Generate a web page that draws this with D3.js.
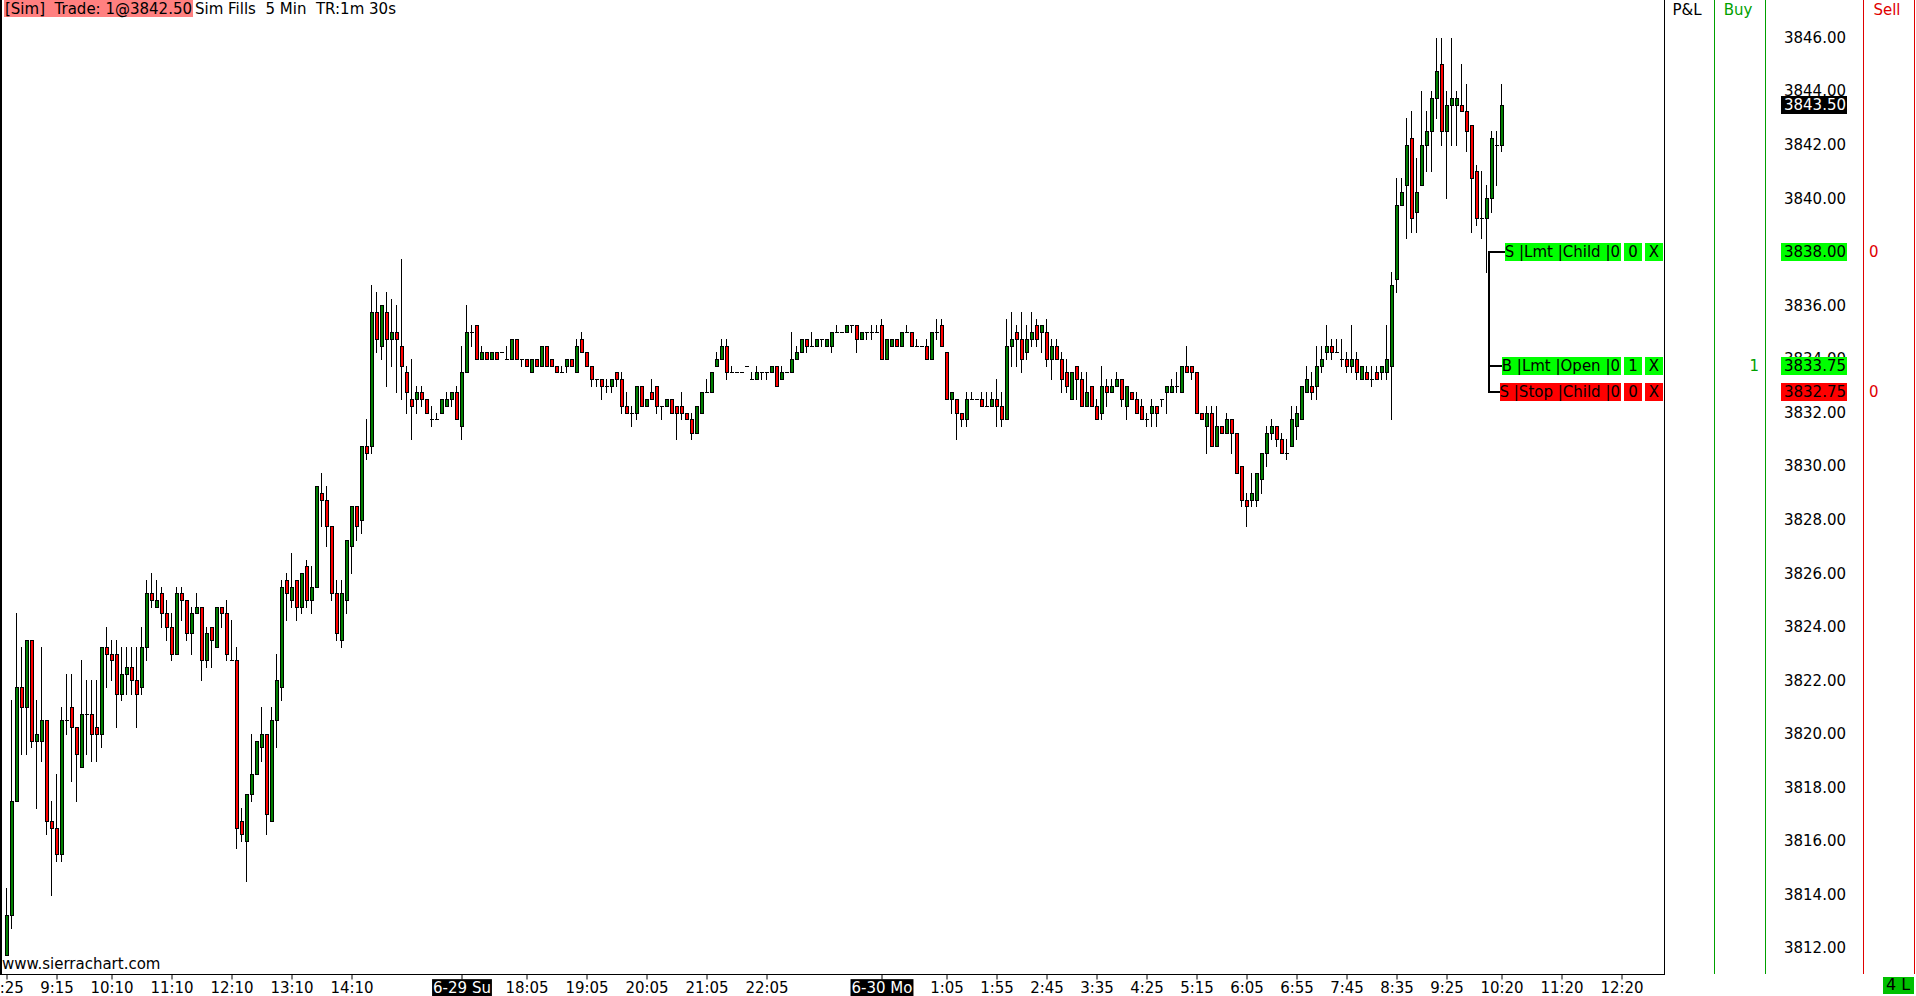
<!DOCTYPE html>
<html><head><meta charset="utf-8">
<script src="https://cdn.jsdelivr.net/npm/d3@7"></script>
<style>
body{margin:0;background:#fff;overflow:hidden;}
svg{display:block;}
text{font-family:"DejaVu Sans",Verdana,sans-serif;white-space:pre;}
</style></head>
<body><svg id="c" width="1916" height="996"></svg>
<script>
// ---- DATA (5 min bars, 6-27 08:25 .. 6-30 10:20) ----
const opens = [3811.75,3813.25,3817.5,3821.75,3821.0,3823.5,3819.75,3819.75,3820.5,3816.75,3816.5,3815.5,3820.5,3821.0,3820.25,3818.75,3820.75,3820.75,3820.25,3820.0,
3823.25,3823.0,3823.0,3821.5,3822.25,3822.5,3822.0,3821.75,3823.25,3825.25,3824.75,3825.25,3824.5,3824.0,3823.0,3825.25,3825.0,3823.75,3824.5,3824.75,
3822.75,3824.0,3823.25,3824.75,3824.5,3822.75,3822.75,3816.75,3816.0,3817.75,3818.5,3819.5,3820.0,3816.75,3820.5,3821.75,3825.75,3825.0,3825.75,3824.75,
3826.25,3825.0,3825.5,3829.0,3828.75,3827.75,3825.25,3823.5,3825.0,3827.0,3828.5,3828.0,3830.75,3830.75,3835.75,3834.5,3835.75,3834.75,3835.0,3834.5,
3833.5,3832.5,3832.5,3832.75,3832.5,3831.75,3831.75,3832.0,3832.25,3832.5,3832.75,3831.5,3833.5,3835.0,3835.25,3834.0,3834.25,3834.0,3834.25,3834.25,
3834.0,3834.0,3834.75,3834.0,3834.0,3833.5,3834.0,3833.75,3834.5,3834.0,3833.75,3833.5,3833.75,3834.0,3833.5,3834.75,3834.25,3833.75,3833.25,3833.25,
3833.0,3833.0,3833.5,3833.25,3832.25,3832.0,3832.0,3833.0,3832.25,3832.75,3833.0,3832.25,3832.25,3832.5,3832.25,3832.25,3832.0,3831.75,3831.25,3832.0,
3832.75,3832.75,3833.75,3834.0,3834.5,3833.5,3833.5,3833.5,3833.75,3833.25,3833.25,3833.5,3833.5,3833.5,3833.75,3833.25,3833.5,3833.5,3834.0,3834.25,
3834.75,3834.5,3834.5,3834.75,3834.5,3834.5,3835.0,3835.0,3835.0,3835.25,3835.25,3834.75,3835.0,3835.0,3835.0,3835.25,3834.0,3834.5,3834.75,3834.5,
3835.0,3835.0,3834.5,3834.5,3834.5,3834.0,3835.0,3835.25,3834.25,3832.5,3832.5,3832.0,3831.75,3832.5,3832.5,3832.5,3832.25,3832.25,3832.5,3832.25,
3831.75,3834.5,3835.0,3834.75,3834.25,3834.75,3835.25,3835.0,3835.0,3834.0,3834.5,3834.0,3833.5,3832.5,3833.75,3833.25,3832.25,3833.0,3832.25,3832.0,
3833.0,3832.75,3833.0,3833.25,3832.25,3832.75,3832.5,3832.25,3831.75,3832.0,3832.25,3832.5,3832.75,3832.75,3833.0,3832.75,3833.75,3833.75,3833.5,3832.0,
3831.5,3832.0,3830.75,3831.5,3831.25,3831.75,3831.25,3830.0,3828.75,3828.75,3828.75,3829.5,3830.5,3831.25,3831.5,3831.0,3830.5,3830.75,3831.5,3831.75,
3832.75,3833.0,3833.0,3833.75,3834.25,3834.5,3834.25,3834.0,3834.0,3833.75,3834.0,3833.25,3833.5,3833.25,3833.5,3833.5,3833.5,3833.75,3837.0,3839.75,
3840.5,3842.25,3839.5,3840.5,3842.0,3842.5,3843.75,3845.0,3842.5,3843.5,3843.5,3843.5,3843.25,3842.75,3841.0,3839.25,3839.25,3840.0,3842.0,3842.0];
const highs = [3814.25,3821.25,3824.5,3823.25,3823.5,3823.5,3821.25,3823.25,3820.5,3817.5,3818.5,3821.0,3822.25,3822.25,3820.25,3822.75,3822.0,3822.0,3822.0,3823.25,
3824.0,3823.5,3823.5,3823.25,3823.25,3823.25,3823.25,3824.0,3825.75,3826.0,3825.75,3825.5,3825.0,3824.5,3825.5,3825.5,3825.0,3824.75,3825.25,3824.75,
3824.0,3824.0,3824.75,3824.75,3825.0,3824.25,3823.25,3817.25,3817.75,3820.0,3819.75,3821.0,3820.0,3821.0,3823.0,3825.75,3826.0,3826.75,3825.75,3826.0,
3826.5,3826.25,3829.25,3829.75,3829.25,3827.75,3825.75,3825.75,3827.25,3828.5,3828.5,3830.75,3831.75,3836.75,3836.5,3836.0,3836.5,3836.25,3836.0,3837.75,
3833.75,3834.0,3833.0,3833.0,3832.5,3832.25,3832.0,3832.5,3832.75,3832.75,3833.0,3834.5,3836.0,3835.25,3835.25,3834.5,3834.25,3834.25,3834.25,3834.25,
3834.5,3834.75,3834.75,3834.0,3834.0,3834.0,3834.0,3834.5,3834.5,3834.0,3833.75,3833.75,3834.0,3834.0,3834.75,3835.0,3834.25,3833.75,3833.25,3833.25,
3833.25,3833.25,3833.5,3833.5,3832.75,3832.25,3833.0,3833.0,3832.5,3833.25,3833.0,3832.25,3832.5,3832.5,3832.25,3832.75,3832.0,3832.0,3832.25,3832.75,
3833.25,3833.5,3834.25,3834.75,3834.75,3833.75,3833.5,3833.5,3833.75,3833.5,3833.75,3833.5,3833.5,3833.75,3833.75,3833.75,3833.5,3835.0,3834.5,3834.75,
3834.75,3835.0,3834.75,3834.75,3834.75,3835.0,3835.25,3835.0,3835.25,3835.25,3835.25,3835.0,3835.0,3835.25,3835.25,3835.5,3834.75,3834.75,3834.75,3835.0,
3835.25,3835.0,3834.75,3834.5,3834.75,3835.0,3835.5,3835.5,3834.25,3832.75,3832.5,3832.0,3832.75,3832.75,3832.5,3832.75,3832.75,3832.75,3833.25,3832.75,
3835.5,3835.75,3835.25,3835.75,3835.25,3835.75,3835.5,3835.25,3835.5,3834.75,3834.75,3834.25,3834.0,3833.5,3833.75,3833.5,3833.5,3833.0,3832.5,3833.75,
3833.25,3833.25,3833.5,3833.25,3833.0,3832.75,3832.75,3832.5,3832.0,3832.5,3832.25,3832.5,3833.0,3833.25,3833.5,3833.75,3834.5,3833.75,3833.5,3832.0,
3832.25,3832.25,3832.25,3831.5,3832.0,3831.75,3831.25,3830.0,3829.0,3829.75,3829.75,3830.5,3831.5,3831.75,3831.5,3831.25,3831.0,3832.25,3832.25,3833.0,
3833.75,3833.5,3834.5,3834.5,3835.25,3834.75,3834.75,3834.75,3834.25,3835.25,3834.25,3833.75,3833.75,3833.75,3833.75,3833.75,3835.25,3837.25,3840.75,3840.75,
3843.0,3843.25,3841.5,3844.0,3843.25,3844.0,3846.0,3846.0,3844.0,3846.0,3844.0,3845.0,3844.25,3842.75,3841.25,3841.0,3840.5,3842.5,3842.5,3844.25];
const lows = [3811.75,3812.75,3817.5,3819.25,3819.25,3819.5,3817.25,3819.0,3816.25,3814.0,3815.25,3815.25,3820.0,3818.25,3817.5,3818.75,3819.25,3819.0,3819.0,3819.5,
3821.75,3822.0,3820.25,3821.25,3821.5,3821.5,3820.25,3821.5,3822.75,3824.75,3824.75,3824.0,3823.5,3822.75,3823.0,3824.25,3823.5,3823.0,3824.5,3822.0,
3822.5,3822.5,3823.25,3824.0,3822.75,3822.75,3815.75,3816.0,3814.5,3817.5,3818.5,3819.0,3816.25,3816.75,3819.5,3821.25,3824.25,3824.75,3824.25,3824.5,
3824.75,3824.5,3825.5,3827.75,3827.0,3825.0,3823.5,3823.25,3824.5,3826.0,3827.25,3827.5,3830.25,3830.5,3834.25,3834.0,3833.0,3833.75,3832.75,3832.5,
3832.0,3831.0,3832.0,3832.25,3832.0,3831.5,3831.75,3832.0,3832.25,3832.25,3831.75,3831.0,3833.5,3834.5,3834.0,3834.0,3834.0,3834.0,3834.0,3834.25,
3834.0,3834.0,3834.0,3833.75,3833.75,3833.5,3833.75,3833.75,3833.75,3833.75,3833.5,3833.5,3833.5,3833.75,3833.5,3834.25,3833.75,3833.0,3833.0,3832.5,
3832.75,3832.75,3833.0,3832.0,3832.0,3831.5,3831.75,3832.25,3832.25,3832.5,3832.0,3831.75,3832.25,3832.0,3831.0,3831.75,3831.75,3831.0,3831.25,3832.0,
3832.75,3832.75,3833.75,3834.0,3833.25,3833.5,3833.5,3833.5,3833.75,3833.25,3833.25,3833.25,3833.25,3833.5,3833.0,3833.25,3833.5,3833.5,3834.0,3834.25,
3834.25,3834.5,3834.5,3834.5,3834.5,3834.25,3835.0,3835.0,3835.0,3835.0,3834.25,3834.75,3834.75,3834.75,3835.0,3834.0,3834.0,3834.5,3834.5,3834.5,
3835.0,3834.5,3834.5,3834.5,3834.0,3834.0,3834.75,3834.5,3832.5,3832.0,3831.0,3831.5,3831.5,3832.5,3832.5,3832.25,3832.25,3832.25,3831.5,3831.5,
3831.75,3833.75,3833.75,3833.5,3834.0,3834.5,3834.5,3834.25,3833.75,3833.25,3834.0,3832.75,3832.75,3832.5,3832.5,3832.25,3832.25,3832.25,3831.75,3831.75,
3832.25,3832.75,3833.0,3832.25,3831.75,3832.5,3832.0,3831.75,3831.5,3831.5,3831.5,3832.25,3832.0,3832.75,3832.75,3832.75,3833.5,3833.25,3832.0,3831.75,
3830.5,3830.75,3830.75,3831.25,3831.25,3830.5,3829.75,3828.5,3827.75,3828.5,3828.5,3829.0,3830.0,3831.0,3830.75,3830.5,3830.25,3830.75,3831.0,3831.75,
3832.75,3832.5,3832.5,3833.5,3834.0,3834.0,3834.25,3833.75,3833.5,3833.5,3833.25,3833.25,3833.25,3833.0,3833.25,3833.25,3833.25,3831.75,3836.5,3839.75,
3838.5,3838.75,3838.75,3840.5,3841.0,3841.0,3843.0,3842.0,3840.0,3842.0,3842.0,3843.25,3841.75,3838.75,3839.0,3838.5,3837.25,3839.5,3840.5,3841.75];
const closes = [3813.25,3817.5,3821.75,3821.0,3823.5,3819.75,3820.0,3820.5,3816.75,3816.5,3815.5,3820.5,3820.5,3820.25,3819.25,3820.75,3820.75,3820.0,3820.0,3823.25,
3823.0,3822.75,3821.5,3822.25,3822.5,3822.0,3821.5,3823.25,3825.25,3825.0,3825.0,3824.5,3824.0,3823.0,3825.25,3825.0,3823.75,3824.5,3824.75,3822.75,
3823.75,3823.5,3824.75,3824.5,3823.0,3822.75,3816.5,3816.25,3817.75,3818.5,3819.75,3820.0,3817.0,3820.5,3822.0,3825.5,3825.25,3825.5,3824.75,3826.0,
3825.0,3825.5,3829.25,3828.75,3827.75,3825.25,3823.75,3825.25,3827.25,3828.5,3827.75,3830.75,3830.5,3835.75,3834.75,3836.0,3834.75,3835.0,3834.75,3833.75,
3832.75,3832.25,3832.75,3832.5,3832.0,3831.75,3831.75,3832.5,3832.5,3832.75,3831.75,3833.5,3835.0,3835.0,3834.0,3834.25,3834.0,3834.25,3834.0,3834.25,
3834.0,3834.75,3834.0,3834.0,3833.75,3834.0,3833.75,3834.5,3833.75,3833.75,3833.5,3833.5,3834.0,3833.75,3834.5,3834.25,3833.75,3833.25,3833.25,3833.0,
3833.0,3833.25,3833.25,3832.25,3832.0,3832.0,3833.0,3832.25,3832.5,3832.5,3832.25,3832.25,3832.5,3832.0,3832.0,3832.0,3831.75,3831.25,3832.25,3832.75,
3832.75,3833.5,3834.0,3834.5,3833.5,3833.5,3833.5,3833.5,3833.75,3833.25,3833.5,3833.5,3833.5,3833.75,3833.0,3833.5,3833.5,3834.0,3834.25,3834.75,
3834.5,3834.5,3834.75,3834.75,3834.75,3835.0,3835.0,3835.0,3835.25,3835.25,3834.75,3835.0,3835.0,3835.0,3835.0,3834.0,3834.75,3834.75,3834.5,3835.0,
3835.0,3834.5,3834.5,3834.5,3834.0,3835.0,3835.0,3834.5,3832.5,3832.75,3832.0,3831.75,3832.5,3832.5,3832.5,3832.25,3832.25,3832.5,3832.25,3831.75,
3834.5,3834.75,3834.75,3834.0,3834.75,3835.0,3834.75,3835.25,3834.0,3834.5,3834.0,3833.25,3833.0,3833.5,3833.25,3832.25,3832.75,3832.25,3831.75,3833.0,
3832.75,3833.0,3833.25,3832.5,3833.0,3832.5,3832.0,3831.75,3831.75,3832.25,3832.0,3832.5,3833.0,3833.0,3833.0,3833.75,3833.5,3833.5,3832.0,3831.75,
3832.0,3830.75,3831.5,3831.25,3831.75,3831.25,3829.75,3828.75,3828.5,3829.0,3829.75,3830.5,3831.25,3831.5,3831.0,3830.5,3830.5,3831.75,3832.0,3833.0,
3833.25,3832.75,3833.75,3834.0,3834.5,3834.25,3834.25,3834.0,3833.75,3834.0,3833.5,3833.75,3833.25,3833.25,3833.25,3833.75,3834.0,3836.75,3839.75,3840.25,
3842.0,3839.25,3840.25,3842.0,3842.5,3843.75,3844.75,3842.5,3843.5,3843.75,3843.75,3843.25,3842.5,3840.75,3839.25,3839.25,3840.0,3842.25,3842.0,3843.5];

const timeTickBars   = [0,10,21,33,45,57,69,91,104,116,128,140,152,175,188,198,208,218,228,238,248,258,268,278,288,299,311,323];
const timeTickLabels = ["8:25","9:15","10:10","11:10","12:10","13:10","14:10","6-29 Su","18:05","19:05","20:05","21:05","22:05","6-30 Mo",
  "1:05","1:55","2:45","3:35","4:25","5:15","6:05","6:55","7:45","8:35","9:25","10:20","11:20","12:20"];
const priceTicks = [3812,3814,3816,3818,3820,3822,3824,3826,3828,3830,3832,3834,3836,3838,3840,3842,3844,3846];

const orderSides  = ["S","B","S"];
const orderTypes  = ["Lmt","Lmt","Stop"];
const orderStates = ["Child","Open","Child"];
const orderPrices = [3838.00,3833.75,3832.75];
const orderQty    = [0,1,0];
const lastPrice = 3843.50;

// ---- LAYOUT ----
const W=1916,H=996, plotR=1664, axisY=974;
const svg=d3.select("#c");
const x=d3.scaleLinear().domain([0,1]).range([6.5,11.5]);
const y=d3.scaleLinear().domain([3812,3846]).range([948.1,37.6]);
const GREEN="#008000", RED="#ff0000", LIME="#00ff00";

svg.append("rect").attr("width",W).attr("height",H).attr("fill","#fff");
svg.append("defs").append("clipPath").attr("id","plot").append("rect").attr("x",0).attr("y",0).attr("width",plotR).attr("height",axisY);

// candles
const bars=opens.map((o,i)=>({i,o,h:highs[i],l:lows[i],c:closes[i]}));
const cg=svg.append("g").attr("clip-path","url(#plot)");
const ry=v=>Math.round(y(v));
const g=cg.selectAll("g.bar").data(bars).join("g").attr("class","bar");
g.append("rect").attr("x",d=>x(d.i)-0.5).attr("width",1)
  .attr("y",d=>ry(d.h)).attr("height",d=>ry(d.l)-ry(d.h)+1).attr("fill","#000");
g.append("rect").attr("x",d=>x(d.i)-1.5).attr("width",4)
  .attr("y",d=>ry(Math.max(d.o,d.c))).attr("height",d=>ry(Math.min(d.o,d.c))-ry(Math.max(d.o,d.c))+1).attr("fill","#000");
g.filter(d=>d.o!==d.c).append("rect").attr("x",d=>x(d.i)-0.5).attr("width",2)
  .attr("y",d=>ry(Math.max(d.o,d.c))+1).attr("height",d=>Math.max(0,ry(Math.min(d.o,d.c))-ry(Math.max(d.o,d.c))-1))
  .attr("fill",d=>d.c>d.o?GREEN:RED);

// frame lines
svg.append("rect").attr("x",0).attr("y",0).attr("width",2).attr("height",axisY).attr("fill","#000");
svg.append("rect").attr("x",plotR).attr("y",0).attr("width",1).attr("height",axisY+1).attr("fill","#000");
svg.append("rect").attr("x",0).attr("y",axisY).attr("width",plotR+1).attr("height",1).attr("fill","#000");
[[1714,"#00a000"],[1765,"#00a000"],[1863,"#e00000"],[1914,"#e00000"]].forEach(([cx,col])=>
  svg.append("rect").attr("x",cx).attr("y",0).attr("width",1).attr("height",axisY).attr("fill",col));

// time axis
const xa=svg.append("g").attr("transform",`translate(0,${axisY+0.5})`)
  .call(d3.axisBottom(x).tickValues(timeTickBars).tickFormat((d,i)=>timeTickLabels[i]).tickSize(5).tickPadding(3));
xa.select(".domain").remove();
xa.selectAll(".tick line").attr("stroke","#000");
xa.selectAll(".tick text").attr("font-size",15).attr("font-family","DejaVu Sans").attr("fill","#000").attr("dy","0.71em");
xa.selectAll(".tick").each(function(d,i){
  const lab=timeTickLabels[i];
  if(lab.indexOf("-")>0){
    const tk=d3.select(this);
    const t=tk.select("text");
    const bb=t.node().getBBox();
    tk.insert("rect",":scope > text").attr("x",bb.x-1).attr("y",bb.y).attr("width",bb.width+2).attr("height",bb.height+1).attr("fill","#000");
    t.attr("fill","#fff");
  }
});

// price axis
const ya=svg.append("g").attr("transform","translate(1846,0)")
  .call(d3.axisLeft(y).tickValues(priceTicks).tickFormat(d3.format(".2f")).tickSize(0).tickPadding(0));
ya.select(".domain").remove();
ya.selectAll(".tick text").attr("font-size",15).attr("font-family","DejaVu Sans").attr("fill","#000");

const ov=svg.append("g");
function priceBox(p,bg,fg){
  const gy=Math.round(y(p));
  ov.append("rect").attr("x",1781).attr("y",gy-9).attr("width",66).attr("height",18).attr("fill",bg);
  ov.append("text").attr("x",1846).attr("y",gy).attr("dy","0.36em").attr("text-anchor","end")
    .attr("font-size",15).attr("fill",fg).text(d3.format(".2f")(p));
}
priceBox(lastPrice,"#000","#fff");

// order bracket
const bx=1489;
ov.append("rect").attr("x",bx-1).attr("y",Math.round(y(orderPrices[0]))-1).attr("width",2)
  .attr("height",Math.round(y(orderPrices[2]))-Math.round(y(orderPrices[0]))+2).attr("fill","#000");
orderPrices.forEach((p,i)=>{
  const gy=Math.round(y(p));
  const bg=orderTypes[i]==="Stop"?RED:LIME;
  const og=ov.append("g");
  const r=og.append("rect").attr("y",gy-9).attr("height",18).attr("fill",bg);
  const t=og.append("text").attr("x",1620).attr("y",gy).attr("dy","0.36em").attr("text-anchor","end")
    .attr("font-size",15).attr("fill","#000").text(`${orderSides[i]} |${orderTypes[i]} |${orderStates[i]} |0`);
  const w=t.node().getComputedTextLength();
  const left=Math.round(1621-w-1);
  r.attr("x",left).attr("width",1621-left);
  og.append("rect").attr("x",bx-1).attr("y",gy-1).attr("width",left-bx+1).attr("height",2).attr("fill","#000");
  og.append("rect").attr("x",1624).attr("y",gy-9).attr("width",18).attr("height",18).attr("fill",bg);
  og.append("text").attr("x",1633).attr("y",gy).attr("dy","0.36em").attr("text-anchor","middle").attr("font-size",15).text(orderQty[i]);
  og.append("rect").attr("x",1645).attr("y",gy-9).attr("width",18).attr("height",18).attr("fill",bg);
  og.append("text").attr("x",1654).attr("y",gy).attr("dy","0.36em").attr("text-anchor","middle").attr("font-size",15).text("X");
  priceBox(p,bg,"#000");
  if(orderSides[i]==="B"){
    ov.append("text").attr("x",1759).attr("y",gy).attr("dy","0.36em").attr("text-anchor","end").attr("font-size",15).attr("fill","#00a000").text(orderQty[i]);
  } else {
    ov.append("text").attr("x",1869).attr("y",gy).attr("dy","0.36em").attr("font-size",15).attr("fill","#e00000").text(orderQty[i]);
  }
});

// headers
ov.append("text").attr("x",1687).attr("y",15).attr("text-anchor","middle").attr("font-size",15).attr("fill","#000").text("P&L");
ov.append("text").attr("x",1738).attr("y",15).attr("text-anchor","middle").attr("font-size",15).attr("fill","#00a000").text("Buy");
ov.append("text").attr("x",1887).attr("y",15).attr("text-anchor","middle").attr("font-size",15).attr("fill","#e00000").text("Sell");

// title
const tg=svg.append("g");
const tr=tg.append("rect").attr("x",4).attr("y",0).attr("height",17).attr("fill","#ff8080");
const t1=tg.append("text").attr("x",5).attr("y",14).attr("font-size",15).attr("fill","#000").text("[Sim]  Trade: 1@3842.50");
const w1=t1.node().getComputedTextLength();
tr.attr("width",w1+2);
tg.append("text").attr("x",w1+8).attr("y",14).attr("font-size",15).attr("fill","#000").text("Sim Fills  5 Min  TR:1m 30s");

// watermark
svg.append("text").attr("x",2).attr("y",969).attr("font-size",15).attr("fill","#000").text("www.sierrachart.com");

// position box
svg.append("rect").attr("x",1883).attr("y",977).attr("width",31).attr("height",17).attr("fill","#00c000");
svg.append("text").attr("x",1898).attr("y",990).attr("text-anchor","middle").attr("font-size",16).attr("fill","#000").text("4 L");
</script></body></html>
